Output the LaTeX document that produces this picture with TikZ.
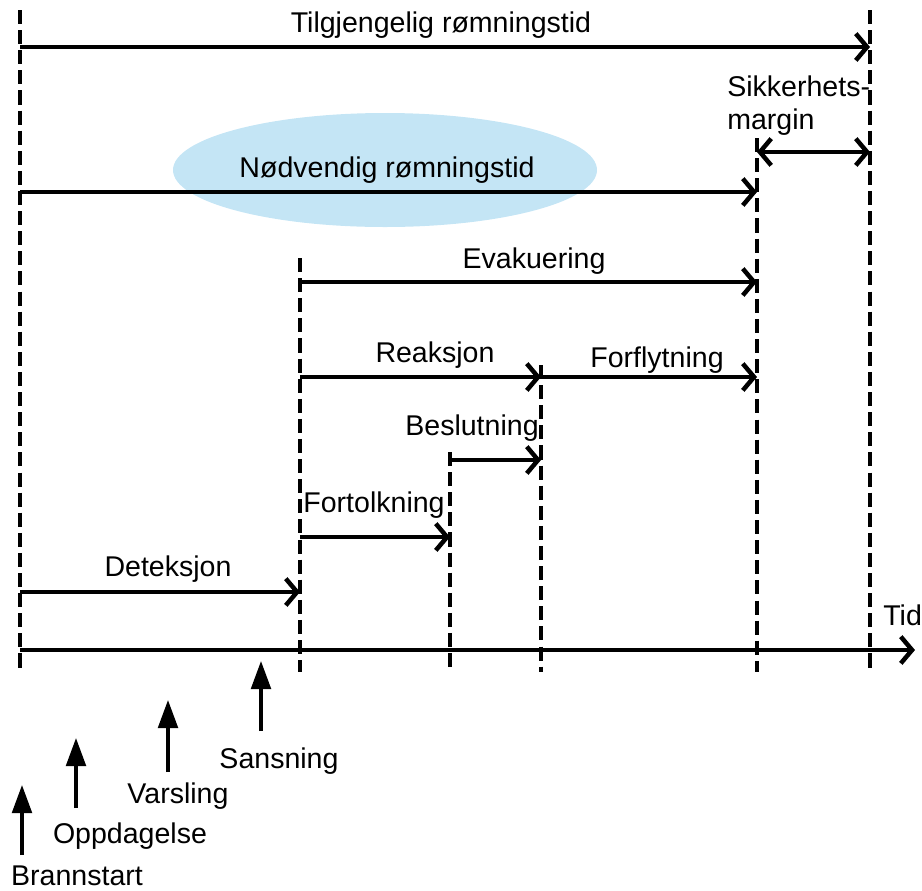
\documentclass[tikz,border=0pt]{standalone}
\usepackage{fontspec}
\setmainfont{Liberation Sans}
\usetikzlibrary{arrows.meta}
\definecolor{lysblaa}{RGB}{196,229,245}
\begin{document}
\begin{tikzpicture}[x=0.025cm, y=-0.025cm]
  \useasboundingbox (0,0) rectangle (922,890);  % Ramme wie Original.
  \tikzstyle{tekst}=[inner sep=0pt, anchor=base, font=\fontsize{20.3}{22.8}\selectfont]
  \tikzstyle{strek}=[line width=2.3pt, dash pattern=on 10pt off 4.3pt]
  \tikzstyle{pil}=[line width=3.2pt, -{Straight Barb[length=8pt, width=19pt]}]
  \tikzstyle{dobbelpil}=[line width=3.2pt, {Straight Barb[length=8pt, width=19pt]}-{Straight Barb[length=8pt, width=19pt]}]
  \tikzstyle{hendelse}=[line width=2.4pt, -{Triangle[length=20pt, width=14pt]}]

  \fill[lysblaa] (385,170) ellipse [x radius=212, y radius=57];

  % vertikale Linien
  \coordinate (s0) at (20,10);   \coordinate (b0) at (20,672);
  \coordinate (s1) at (300,258); \coordinate (b1) at (300,672);
  \coordinate (s2) at (450,452); \coordinate (b2) at (450,672);
  \coordinate (s3) at (541,365); \coordinate (b3) at (541,672);
  \coordinate (s4) at (757,138); \coordinate (b4) at (757,672);
  \coordinate (s5) at (870,10);  \coordinate (b5) at (870,672);

  \draw[strek] (s0) -- (b0);
  \draw[strek] (s1) -- (b1);
  \draw[strek] (s2) -- (b2);
  \draw[strek] (s3) -- (b3);
  \draw[strek] (s4) -- (b4);
  \draw[strek] (s5) -- (b5);

  \coordinate (tg0) at (20,47);   \coordinate (tg1) at (870,47);
  \coordinate (nr0) at (20,192);  \coordinate (nr1) at (757,192);
  \coordinate (sm0) at (757,152); \coordinate (sm1) at (870,152);
  \coordinate (ev0) at (300,282); \coordinate (ev1) at (757,282);
  \coordinate (re0) at (300,377); \coordinate (re1) at (541,377);
  \coordinate (ff1) at (757,377);
  \coordinate (be0) at (450,460); \coordinate (be1) at (541,460);
  \coordinate (fo0) at (300,537); \coordinate (fo1) at (450,537);
  \coordinate (de0) at (20,592);  \coordinate (de1) at (300,592);
  \coordinate (ti0) at (20,650);  \coordinate (ti1) at (915,650);

  \draw[pil] (tg0) -- (tg1);
  \draw[pil] (nr0) -- (nr1);
  \draw[dobbelpil] (sm0) -- (sm1);
  \draw[pil] (ev0) -- (ev1);
  \draw[pil] (re0) -- (re1);
  \draw[pil] (re1) -- (ff1);
  \draw[pil] (be0) -- (be1);
  \draw[pil] (fo0) -- (fo1);
  \draw[pil] (de0) -- (de1);
  \draw[pil] (ti0) -- (ti1);

  \node[tekst] (tgl) at (441,32)  {Tilgjengelig rømningstid};
  \node[tekst] (nrl) at (387,177) {Nødvendig rømningstid};
  \node[tekst, anchor=north west, align=left] (sml) at (727,76) {Sikkerhets-\\margin};
  \node[tekst] (evl) at (534,268) {Evakuering};
  \node[tekst] (rel) at (435,362) {Reaksjon};
  \node[tekst] (ffl) at (657,367) {Forflytning};
  \node[tekst] (bel) at (472,435) {Beslutning};
  \node[tekst] (fol) at (374,512) {Fortolkning};
  \node[tekst] (del) at (168,576) {Deteksjon};
  \node[tekst, anchor=base west] (til) at (883,625) {Tid};

  % Ereignisse unter der Zeitachse
  \coordinate (h0) at (22,855);  \coordinate (p0) at (22,785);
  \coordinate (h1) at (76,808);  \coordinate (p1) at (76,738);
  \coordinate (h2) at (168,772); \coordinate (p2) at (168,700);
  \coordinate (h3) at (261,731); \coordinate (p3) at (261,661);

  \draw[hendelse] (h0) -- (p0);
  \draw[hendelse] (h1) -- (p1);
  \draw[hendelse] (h2) -- (p2);
  \draw[hendelse] (h3) -- (p3);

  \node[tekst] (bsl) at (77,885)  {Brannstart};
  \node[tekst] (odl) at (130,843) {Oppdagelse};
  \node[tekst] (val) at (178,803) {Varsling};
  \node[tekst] (snl) at (279,768) {Sansning};
\end{tikzpicture}
\end{document}
